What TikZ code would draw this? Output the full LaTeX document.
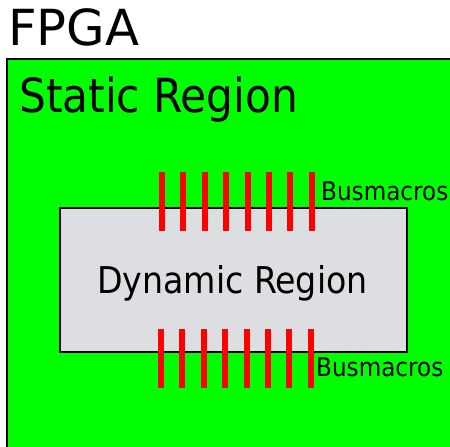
\documentclass[tikz,border=0pt]{standalone}
\usepackage{fontspec}
\setmainfont{DejaVu Sans}
\newfontfamily\condfont{DejaVu Sans Condensed}
\definecolor{staticgreen}{RGB}{0,255,0}
\definecolor{dyngray}{RGB}{221,222,225}
\definecolor{busred}{RGB}{255,0,0}
\tikzset{
  region/.style={draw=black, line width=2pt},
  label/.style={inner sep=0pt, anchor=base west, text=black},
  busbar/.style={draw=busred, line width=6pt},
  buslabel/.style={label, font=\condfont\fontsize{25.7}{25.7}\selectfont},
}
\begin{document}
\begin{tikzpicture}[x=1pt, y=-1pt]
  \useasboundingbox (0,0) rectangle (450,447);
  \clip (0,0) rectangle (450,447);
  % chip outline with the static region
  \filldraw[region, fill=staticgreen] (7,59) rectangle (470,470);
  \node[label, font=\fontsize{49.7}{49.7}\selectfont] (fpga) at (8,45) {FPGA};
  \node[label, font=\condfont\fontsize{47}{47}\selectfont] (static) at (19,112) {Static Region};
  % reconfigurable region
  \filldraw[region, fill=dyngray] (60,208) rectangle (407,352);
  \node[label, font=\condfont\fontsize{36.9}{36.9}\selectfont] (dynamic) at (97,293) {Dynamic Region};
  % bus macros crossing the region border
  \foreach \i in {0,...,7} {
    \draw[busbar] (162+21.4*\i,172) -- (162+21.4*\i,231);
    \draw[busbar] (161+21.4*\i,329) -- (161+21.4*\i,388);
  }
  \node[buslabel] (bustop) at (321,200) {Busmacros};
  \node[buslabel] (busbot) at (316,376) {Busmacros};
\end{tikzpicture}
\end{document}
